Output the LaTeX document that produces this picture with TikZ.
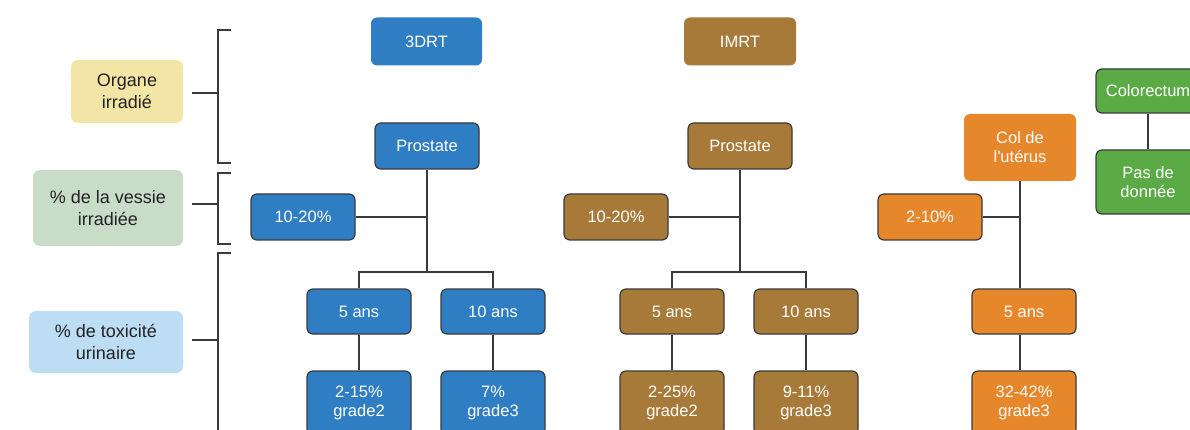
\documentclass[tikz,border=0pt]{standalone}
\usepackage{fontspec}
\setmainfont{Liberation Sans}
\begin{document}
\begin{tikzpicture}[x=1pt,y=-1pt,
  every node/.style={inner sep=0pt, align=center},
  box/.style={rounded corners=6pt, draw=lineC, line width=1.2pt, fill=#1, text=white,
     font=\fontsize{16.5}{18.5}\selectfont, minimum width=104pt, minimum height=46pt},
  flat/.style={rounded corners=6pt, fill=#1, text=white,
     font=\fontsize{16.5}{19}\selectfont},
  lab/.style={rounded corners=7pt, fill=#1, text=textC,
     font=\fontsize{18}{21.5}\selectfont},
  conn/.style={draw=lineC, line width=1.2pt},
  brk/.style={draw=lineC, line width=1.6pt}
]
\definecolor{lineC}{HTML}{3A3A3A}
\definecolor{textC}{HTML}{222222}
\definecolor{blueC}{HTML}{2F7DC2}
\definecolor{brownC}{HTML}{A87A3A}
\definecolor{orangeC}{HTML}{E6872C}
\definecolor{greenC}{HTML}{5AAA46}
\definecolor{yellowC}{HTML}{F3E5A6}
\definecolor{sageC}{HTML}{C9DCC8}
\definecolor{lblueC}{HTML}{BCDDF4}

\useasboundingbox (0,0) rectangle (1190,430);
\clip (0,0) rectangle (1190,430);
\fill[white] (0,0) rectangle (1190,430);

% left labels
\node[lab=yellowC, minimum width=112pt, minimum height=63pt] (L1) at (127,91.5) {Organe\\irradié};
\node[lab=sageC, minimum width=150pt, minimum height=76pt] (L2) at (108,208) {\% de la vessie\\irradiée};
\node[lab=lblueC, minimum width=154pt, minimum height=62pt] (L3) at (106,342) {\% de toxicité\\urinaire};

% brackets
\draw[brk] (231,30) -- (218,30) -- (218,163) -- (231,163);
\draw[brk] (192,93) -- (218,93);
\draw[brk] (231,173) -- (218,173) -- (218,244) -- (231,244);
\draw[brk] (192,204) -- (218,204);
\draw[brk] (231,253) -- (218,253) -- (218,440);
\draw[brk] (192,340) -- (218,340);

% headers
\node[flat=blueC, minimum width=111pt, minimum height=48pt] (H1) at (426.5,41.5) {3DRT};
\node[flat=brownC, minimum width=112pt, minimum height=48pt] (H2) at (740,41.5) {IMRT};

% 3DRT tree
\node[box=blueC] (p1) at (427,146) {Prostate};
\node[box=blueC] (d1) at (303,217) {10-20\%};
\node[box=blueC, minimum height=45pt] (a1) at (359,311.5) {5 ans};
\node[box=blueC, minimum height=45pt] (b1) at (493,311.5) {10 ans};
\node[box=blueC, minimum height=64pt] (a1g) at (359,403) {2-15\%\\grade2};
\node[box=blueC, minimum height=64pt] (b1g) at (493,403) {7\%\\grade3};
\coordinate (j1) at (427,272);
\draw[conn] (p1.south) -- (j1);
\draw[conn] (d1.east) -- (d1.east -| p1.south);
\draw[conn] (a1.north) |- (j1) -| (b1.north);
\draw[conn] (a1.south) -- (a1g.north);
\draw[conn] (b1.south) -- (b1g.north);

% IMRT tree
\node[box=brownC] (p2) at (740,146) {Prostate};
\node[box=brownC] (d2) at (616,217) {10-20\%};
\node[box=brownC, minimum height=45pt] (a2) at (672,311.5) {5 ans};
\node[box=brownC, minimum height=45pt] (b2) at (806,311.5) {10 ans};
\node[box=brownC, minimum height=64pt] (a2g) at (672,403) {2-25\%\\grade2};
\node[box=brownC, minimum height=64pt] (b2g) at (806,403) {9-11\%\\grade3};
\coordinate (j2) at (740,272);
\draw[conn] (p2.south) -- (j2);
\draw[conn] (d2.east) -- (d2.east -| p2.south);
\draw[conn] (a2.north) |- (j2) -| (b2.north);
\draw[conn] (a2.south) -- (a2g.north);
\draw[conn] (b2.south) -- (b2g.north);

% Col de l'uterus
\node[flat=orangeC, minimum width=112pt, minimum height=67pt] (p3) at (1020,147.5) {Col de\\l\textquotesingle utérus};
\node[box=orangeC] (d3) at (930,217) {2-10\%};
\node[box=orangeC, minimum height=45pt] (a3) at (1024,311.5) {5 ans};
\node[box=orangeC, minimum height=64pt] (a3g) at (1024,403) {32-42\%\\grade3};
\draw[conn] (p3.south) -- (p3.south |- a3.north);
\draw[conn] (d3.east) -- (d3.east -| p3.south);
\draw[conn] (a3.south -| p3.south) -- (p3.south |- a3g.north);

% Colorectum
\node[box=greenC, minimum height=44pt] (p4) at (1148,91) {Colorectum};
\node[box=greenC, minimum height=64pt] (g4) at (1148,182) {Pas de\\donnée};
\draw[conn] (p4.south) -- (g4.north);
\end{tikzpicture}
\end{document}
